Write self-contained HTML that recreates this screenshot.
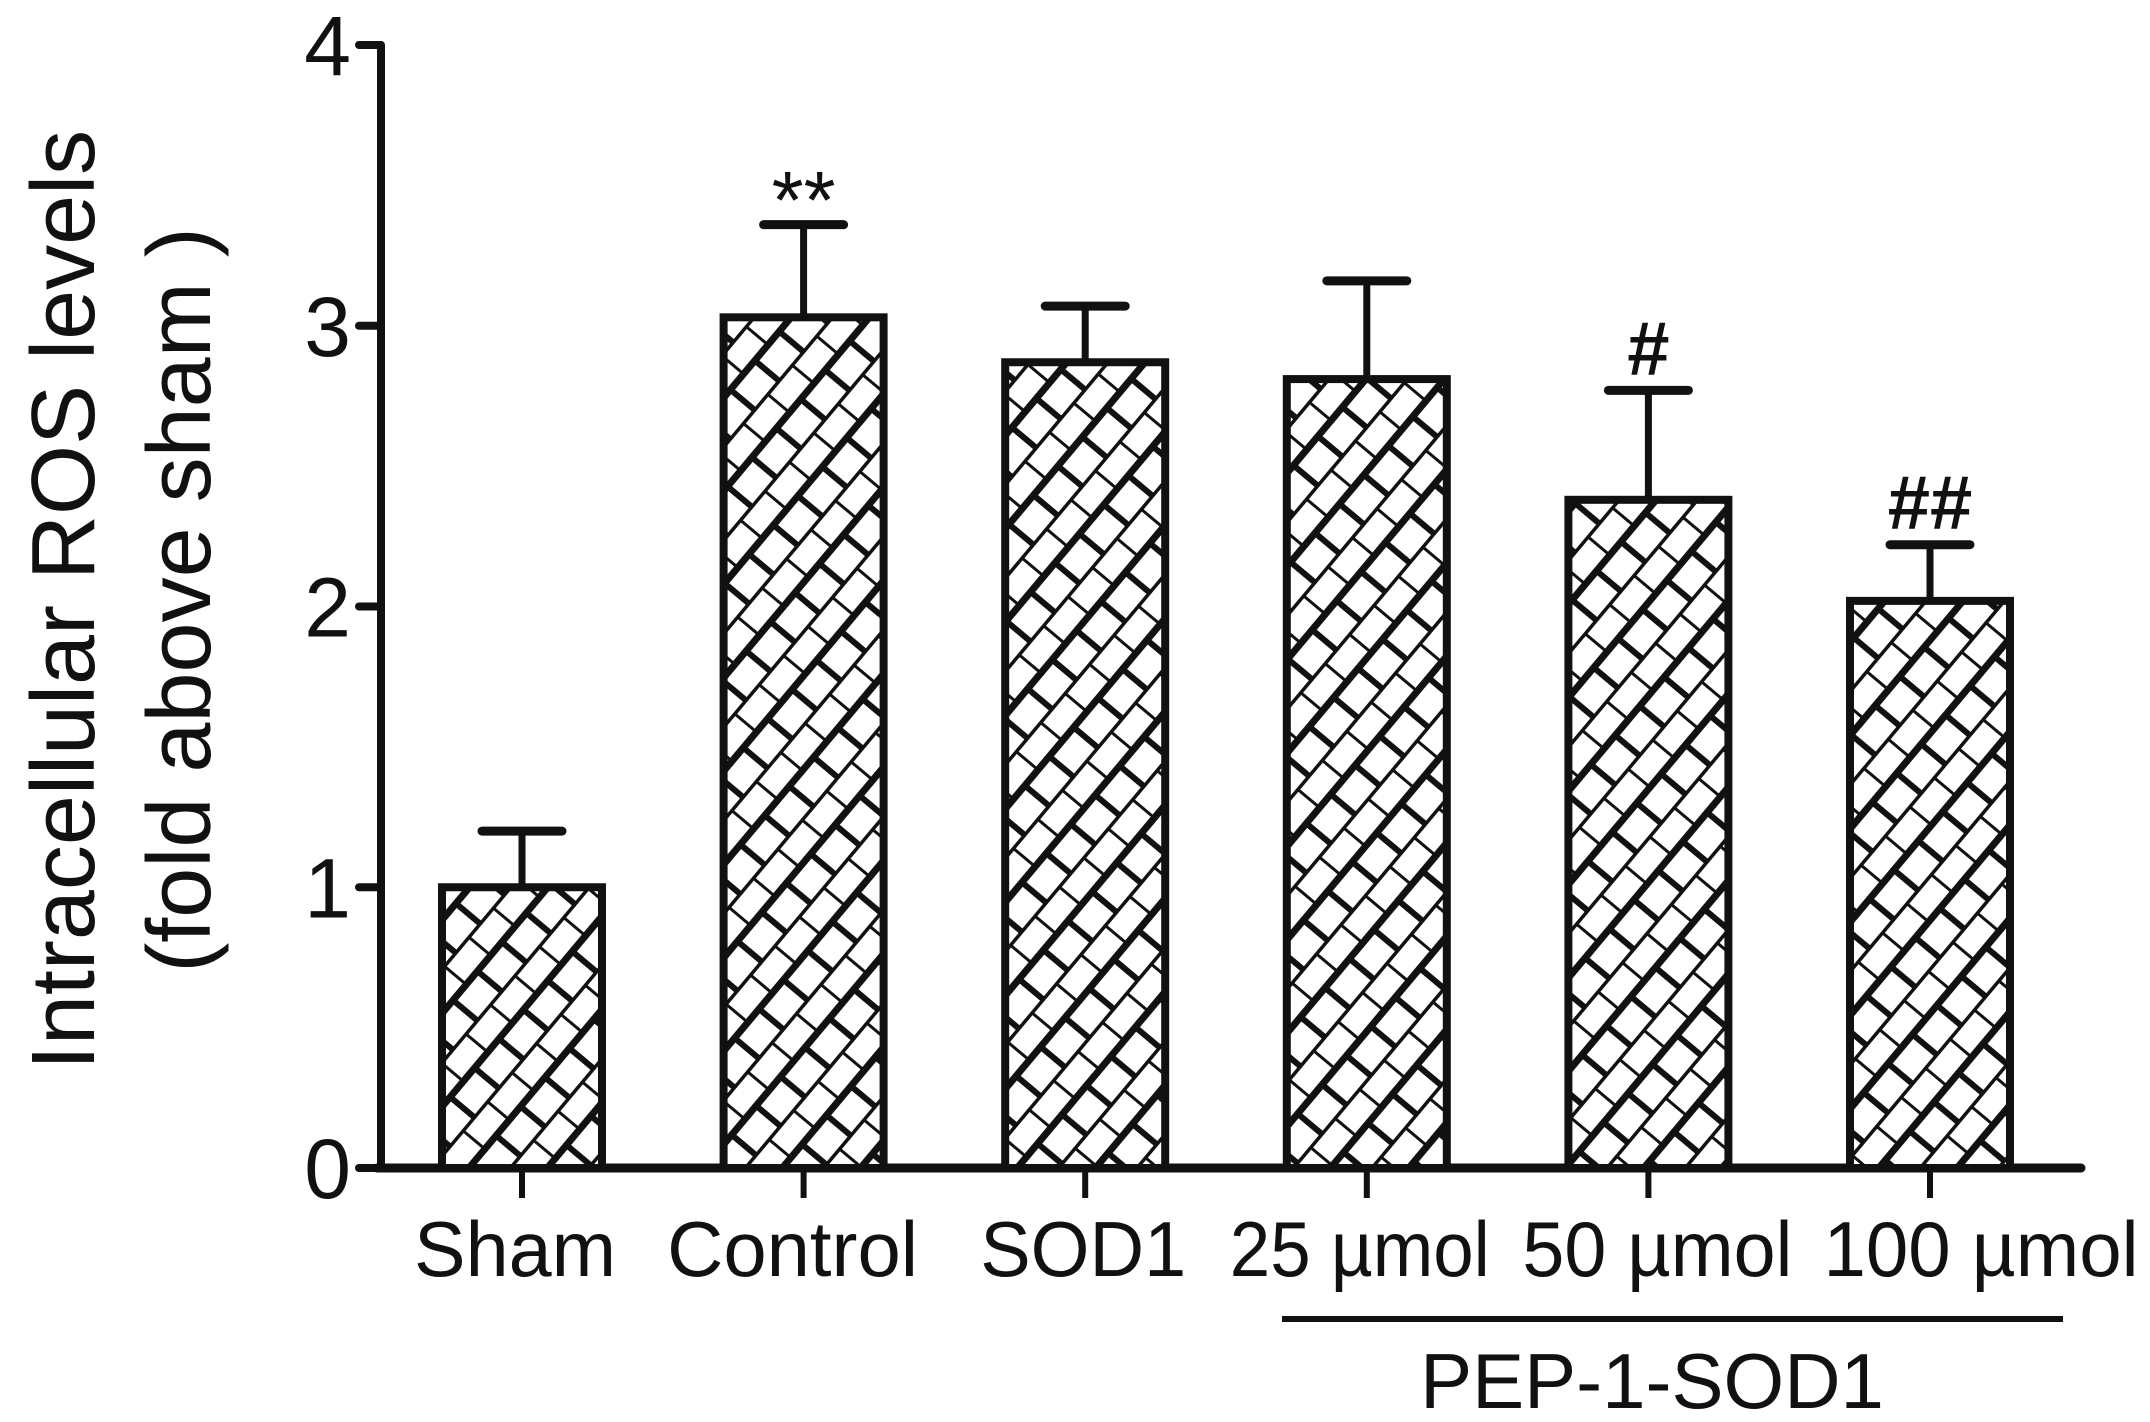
<!DOCTYPE html>
<html><head><meta charset="utf-8"><style>
html,body{margin:0;padding:0;background:#fff}
svg{display:block}
text{font-family:"Liberation Sans",Arial,sans-serif;fill:#111}
</style></head><body>
<svg id="chart" width="2150" height="1422" viewBox="0 0 2150 1422" xmlns="http://www.w3.org/2000/svg">
<defs>
<pattern id="brick" patternUnits="userSpaceOnUse" width="38" height="60" patternTransform="rotate(-50)">
<rect width="38" height="60" fill="#fff"/>
<line x1="0" y1="0" x2="38" y2="0" stroke="#111" stroke-width="7"/>
<line x1="0" y1="30" x2="38" y2="30" stroke="#111" stroke-width="7"/>
<line x1="0" y1="0" x2="0" y2="30" stroke="#111" stroke-width="6"/>
<line x1="19" y1="30" x2="19" y2="60" stroke="#111" stroke-width="6"/>
</pattern>
</defs>
<g id="plot"></g>
</svg>
<script>
const categories = ["Sham","Control","SOD1","25 µmol","50 µmol","100 µmol"];
const values = [1.0, 3.03, 2.87, 2.81, 2.38, 2.02];
const errors = [0.20, 0.33, 0.20, 0.35, 0.39, 0.20];
const marks = ["", "**", "", "", "#", "##"];
const yTicks = [0,1,2,3,4];

const NS="http://www.w3.org/2000/svg";
const g=document.getElementById('plot');
const X0=381, XEND=2081, Y0=1168, Y4=45;
const y=v=>Y0-(Y0-Y4)*v/4;
const x=i=>522+i*281.6;
const BW=160;
const labelDx=[-7,-11,-2,-7,9,51];
const labelW=[202,251,206,260,270,315];
function el(tag,attrs,parent){const e=document.createElementNS(NS,tag);for(const k in attrs)e.setAttribute(k,attrs[k]);(parent||g).appendChild(e);return e;}

let a=el('line',{x1:X0,y1:Y4,x2:X0,y2:Y0,stroke:'#111','stroke-width':8});


yTicks.forEach(t=>{
  let tk=el('line',{x1:X0-22,y1:y(t),x2:X0,y2:y(t),stroke:'#111','stroke-width':8,'stroke-linecap':'round'});
  
  
  let tl=el('text',{x:X0-30,y:y(t)+30,'text-anchor':'end','font-size':84});
  tl.textContent=t;
  
  
});
let xa=el('line',{x1:X0-4,y1:Y0,x2:XEND,y2:Y0,stroke:'#111','stroke-width':9,'stroke-linecap':'round'});



categories.forEach((c,i)=>{
  const cx=x(i), top=y(values[i]), et=y(values[i]+errors[i]);
  let eb=el('line',{x1:cx,y1:top,x2:cx,y2:et,stroke:'#111','stroke-width':7});
  
  
  let ec=el('line',{x1:cx-40,y1:et,x2:cx+40,y2:et,stroke:'#111','stroke-width':9,'stroke-linecap':'round'});
  
  
  let b=el('rect',{x:cx-BW/2,y:top,width:BW,height:Y0-top,fill:'url(#brick)',stroke:'#111','stroke-width':8});
  
  
  let tk=el('line',{x1:cx,y1:Y0,x2:cx,y2:Y0+30,stroke:'#111','stroke-width':6});
  
  
  let lb=el('text',{x:cx+labelDx[i]-labelW[i]/2,y:1276,'font-size':78,textLength:labelW[i],lengthAdjust:'spacingAndGlyphs'});
  lb.textContent=c;
  
  
  if(marks[i]){
    const star=marks[i]==="**";
    let m=el('text',{x:cx,y:et-(star?-4:16),'text-anchor':'middle','font-size':star?82:76,'font-weight':star?'normal':'bold'});
    m.textContent=marks[i];
    
    
  }
});

let pl=el('line',{x1:1282,y1:1319,x2:2063,y2:1319,stroke:'#111','stroke-width':6});


let pt=el('text',{x:1652,y:1408,'text-anchor':'middle','font-size':78});
pt.textContent="PEP-1-SOD1";



let t1=el('text',{transform:'translate(94,600) rotate(-90)','text-anchor':'middle','font-size':90});
t1.textContent="Intracellular ROS levels";


let t2=el('text',{transform:'translate(210,600) rotate(-90)','text-anchor':'middle','font-size':90});
t2.textContent="(fold above sham )";


</script>
</body></html>
